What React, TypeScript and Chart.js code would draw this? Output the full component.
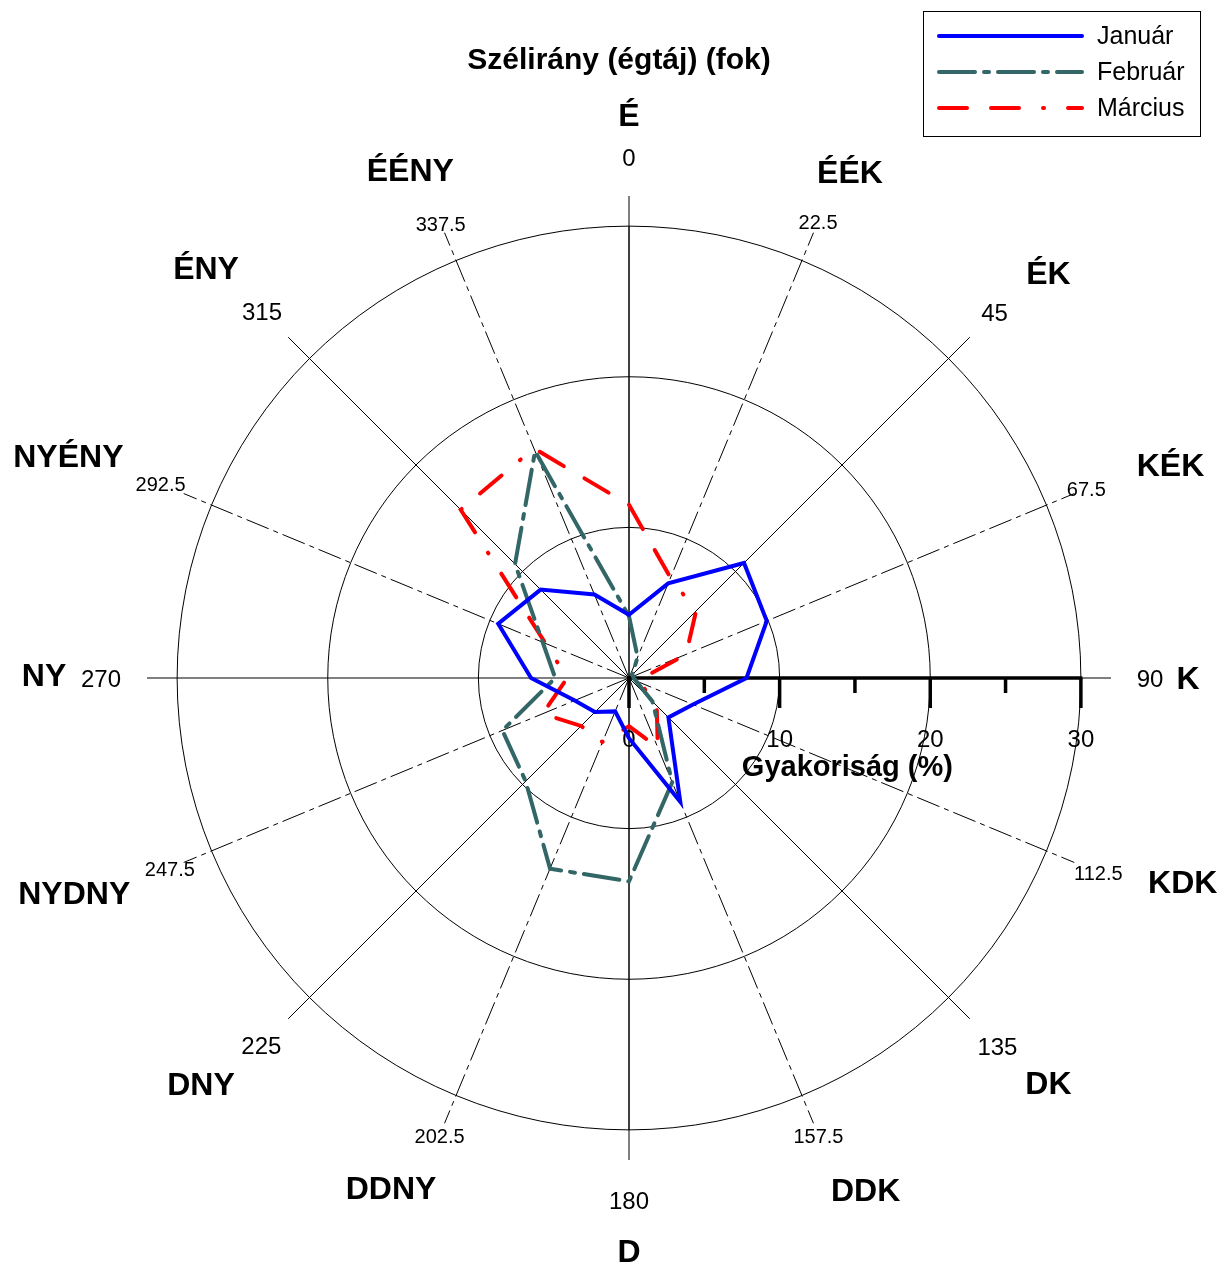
import React, { useEffect, useRef } from "react";
import { Chart, registerables } from "chart.js";

Chart.register(...registerables);

// ---------------- data ----------------
const degreeLabels = ["0", "22.5", "45", "67.5", "90", "112.5", "135", "157.5", "180", "202.5", "225", "247.5", "270", "292.5", "315", "337.5"];
const directionNames = ["É", "ÉÉK", "ÉK", "KÉK", "K", "KDK", "DK", "DDK", "D", "DDNY", "DNY", "NYDNY", "NY", "NYÉNY", "ÉNY", "ÉÉNY"];
const januar = [4.2, 6.8, 10.8, 9.9, 7.8, 4.6, 3.7, 8.9, 4.0, 2.4, 3.2, 3.9, 6.5, 9.4, 8.3, 6.0];
const februar = [4.1, 1.5, 0.3, 0.3, 0.3, 0.5, 2.2, 7.5, 13.5, 13.7, 9.7, 9.1, 4.9, 6.2, 10.7, 16.3];
const marcius = [11.5, 7.2, 6.3, 4.1, 0.9, 0.8, 2.6, 5.0, 3.2, 4.6, 4.5, 6.2, 4.1, 6.0, 15.8, 16.5];
const seriesNames = ["Január", "Február", "Március"];
const gridTicks = [0, 10, 20, 30];
const axisTicks = [0, 5, 10, 15, 20, 25, 30];
const axisTickLabels = ["0", "10", "20", "30"];
const chartTitle = "Szélirány (égtáj) (fok)";
const axisTitle = "Gyakoriság (%)";

// ---------------- layout / style ----------------
const W = 1224;
const H = 1268;
const FONT = '"Liberation Sans", Arial, Helvetica, sans-serif';
const SCALE_MAX = 32;
const EAST_INDEX = 4;
const degLabelRadius = [521, 494, 517, 495, 521, 508, 521, 495, 522, 495, 520, 497, 528, 507, 519, 492];
const dirLabelRadius = [563, 552, 583, 582, 559, 590, 583, 564, 573, 563, 590, 595, 585, 603, 589, 553];
const dirLabelShift = [0, 1.1, 1, 1, 0, -2.3, -1, -2.3, 0, 2.5, 1.5, 1.3, 0.3, -0.9, -0.9, -0.8];

function polarPos(scale: any, index: number, shiftDeg: number, r: number) {
  const a = scale.getIndexAngle(index) + (shiftDeg * Math.PI) / 180 - Math.PI / 2;
  return { x: scale.xCenter + Math.cos(a) * r, y: scale.yCenter + Math.sin(a) * r };
}

const decorPlugin = {
  id: "decor",
  beforeDraw(chart: any) {
    const ctx = chart.ctx;
    const s = chart.scales.r;
    ctx.save();
    ctx.fillStyle = "#ffffff";
    ctx.fillRect(0, 0, chart.width, chart.height);
    ctx.fillStyle = "#000000";
    ctx.textAlign = "center";
    ctx.textBaseline = "middle";
    // axis tick labels
    ctx.font = `24px ${FONT}`;
    axisTickLabels.forEach((lab) => {
      const p = s.getPointPositionForValue(EAST_INDEX, Number(lab));
      ctx.fillText(lab, p.x, p.y + 62);
    });
    // axis title
    ctx.font = `bold 29px ${FONT}`;
    const pt = s.getPointPositionForValue(EAST_INDEX, 14.5);
    ctx.fillText(axisTitle, pt.x, pt.y + 90);
    // chart title
    ctx.font = `bold 30px ${FONT}`;
    ctx.fillText(chartTitle, s.xCenter - 10, 61);
    // degree labels
    degreeLabels.forEach((lab, i) => {
      ctx.font = i % 2 === 0 ? `24px ${FONT}` : `20px ${FONT}`;
      const p = polarPos(s, i, 0, degLabelRadius[i]);
      ctx.fillText(lab, p.x, p.y + 2);
    });
    // direction names
    ctx.font = `bold 32px ${FONT}`;
    directionNames.forEach((lab, i) => {
      const p = polarPos(s, i, dirLabelShift[i], dirLabelRadius[i]);
      ctx.fillText(lab, p.x, p.y + 2);
    });
    ctx.restore();
  },
  beforeDatasetsDraw(chart: any) {
    const ctx = chart.ctx;
    const s = chart.scales.r;
    ctx.save();
    ctx.strokeStyle = "#000000";
    // darker N-S axis inside the outer ring
    ctx.lineWidth = 1;
    const pn = s.getPointPositionForValue(0, 30);
    const ps = s.getPointPositionForValue(8, 30);
    ctx.beginPath();
    ctx.moveTo(pn.x, pn.y);
    ctx.lineTo(ps.x, ps.y);
    ctx.stroke();
    // thick value axis towards east
    ctx.lineWidth = 3.5;
    ctx.lineCap = "butt";
    const p0 = s.getPointPositionForValue(EAST_INDEX, 0);
    const p30 = s.getPointPositionForValue(EAST_INDEX, 30);
    ctx.beginPath();
    ctx.moveTo(p0.x, p0.y);
    ctx.lineTo(p30.x + 1.5, p30.y);
    ctx.stroke();
    axisTicks.forEach((v) => {
      const p = s.getPointPositionForValue(EAST_INDEX, v);
      const len = v % 10 === 0 ? 30 : 15;
      ctx.beginPath();
      ctx.moveTo(p.x, p.y);
      ctx.lineTo(p.x, p.y + len);
      ctx.stroke();
    });
    ctx.restore();
  },
  afterDraw(chart: any) {
    const ctx = chart.ctx;
    ctx.save();
    const bx = 923, by = 11, bw = 277, bh = 125;
    ctx.strokeStyle = "#000000";
    ctx.lineWidth = 1;
    ctx.strokeRect(bx + 0.5, by + 0.5, bw, bh);
    ctx.font = `25px ${FONT}`;
    ctx.textAlign = "left";
    ctx.textBaseline = "middle";
    chart.data.datasets.forEach((ds: any, i: number) => {
      const y = by + 25 + i * 36;
      ctx.strokeStyle = ds.borderColor;
      ctx.lineWidth = ds.borderWidth;
      ctx.lineCap = "round";
      ctx.setLineDash(ds.borderDash || []);
      ctx.beginPath();
      ctx.moveTo(939, y);
      ctx.lineTo(1082, y);
      ctx.stroke();
      ctx.setLineDash([]);
      ctx.fillStyle = "#000000";
      ctx.fillText(ds.label, 1097, y + 1);
    });
    ctx.restore();
  },
};

export default function App() {
  const ref = useRef<HTMLCanvasElement | null>(null);
  useEffect(() => {
    if (!ref.current) return;
    const chart = new Chart(ref.current, {
      type: "radar",
      data: {
        labels: degreeLabels,
        datasets: [
          {
            label: seriesNames[0],
            data: januar,
            borderColor: "#0000ff",
            borderWidth: 4,
            borderDash: [],
            borderCapStyle: "round",
            fill: false,
            pointRadius: 0,
            pointHitRadius: 0,
          },
          {
            label: seriesNames[1],
            data: februar,
            borderColor: "#336666",
            borderWidth: 4,
            borderDash: [36, 9, 5, 9],
            borderCapStyle: "round",
            fill: false,
            pointRadius: 0,
            pointHitRadius: 0,
          },
          {
            label: seriesNames[2],
            data: marcius,
            borderColor: "#ff0000",
            borderWidth: 4,
            borderDash: [28, 24, 28, 24, 1, 24],
            borderCapStyle: "round",
            fill: false,
            pointRadius: 0,
            pointHitRadius: 0,
          },
        ],
      },
      options: {
        responsive: false,
        animation: false,
        layout: { padding: { left: 147, right: 113, top: 196, bottom: 108 } },
        elements: { line: { tension: 0 } },
        plugins: {
          legend: { display: false },
          tooltip: { enabled: false },
          title: { display: false },
        },
        scales: {
          r: {
            min: 0,
            max: SCALE_MAX,
            startAngle: 0,
            afterBuildTicks: (scale: any) => {
              scale.ticks = gridTicks.map((v) => ({ value: v }));
            },
            ticks: { display: false },
            grid: { circular: true, color: "#000000", lineWidth: 1 },
            angleLines: {
              color: "#000000",
              lineWidth: 1,
              borderDash: (c: any) => (c.index % 2 === 1 ? [24, 5, 5, 5] : []),
            },
            pointLabels: { display: false },
          },
        },
      },
      plugins: [decorPlugin],
    });
    return () => chart.destroy();
  }, []);
  return (
    <div style={{ position: "absolute", left: 0, top: 0, width: W, height: H }}>
      <canvas ref={ref} width={W} height={H} style={{ display: "block" }} />
    </div>
  );
}
